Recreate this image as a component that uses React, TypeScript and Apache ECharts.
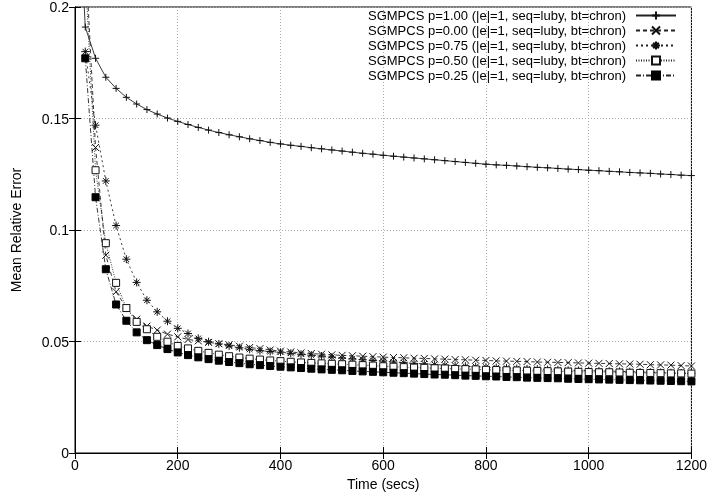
import React, { useEffect, useRef } from "react";
import * as echarts from "echarts";

const times = [0, 20, 40, 60, 80, 100, 120, 140, 160, 180, 200, 220, 240, 260, 280, 300, 320, 340, 360, 380, 400, 420, 440, 460, 480, 500, 520, 540, 560, 580, 600, 620, 640, 660, 680, 700, 720, 740, 760, 780, 800, 820, 840, 860, 880, 900, 920, 940, 960, 980, 1000, 1020, 1040, 1060, 1080, 1100, 1120, 1140, 1160, 1180, 1200];

const p100 = [0.28, 0.191, 0.177, 0.1685, 0.1635, 0.1595, 0.1565, 0.154, 0.152, 0.1502, 0.1487, 0.1473, 0.146, 0.1448, 0.1437, 0.1427, 0.1418, 0.1409, 0.1401, 0.1393, 0.1386, 0.138, 0.1375, 0.1369, 0.1364, 0.1359, 0.1354, 0.1349, 0.1344, 0.134, 0.1335, 0.1331, 0.1327, 0.1323, 0.1319, 0.1315, 0.1311, 0.1307, 0.1303, 0.1299, 0.1295, 0.1292, 0.129, 0.1287, 0.1284, 0.1281, 0.1279, 0.1276, 0.1273, 0.1271, 0.1268, 0.1266, 0.1263, 0.1261, 0.1258, 0.1256, 0.1254, 0.1251, 0.1249, 0.1246, 0.1244];
const p000 = [null, 0.225, 0.137, 0.0887, 0.0723, 0.065, 0.06, 0.0569, 0.0551, 0.0533, 0.0521, 0.0509, 0.0503, 0.0496, 0.049, 0.0485, 0.0479, 0.0473, 0.0468, 0.0462, 0.0457, 0.0453, 0.0449, 0.0446, 0.0443, 0.044, 0.0438, 0.0436, 0.0434, 0.0432, 0.043, 0.0428, 0.0427, 0.0425, 0.0424, 0.0422, 0.0421, 0.0419, 0.0418, 0.0416, 0.0415, 0.0413, 0.0412, 0.0411, 0.041, 0.0408, 0.0407, 0.0406, 0.0405, 0.0404, 0.0403, 0.0402, 0.0401, 0.04, 0.0399, 0.0398, 0.0396, 0.0395, 0.0394, 0.0392, 0.039];
const p075 = [null, 0.18, 0.147, 0.122, 0.102, 0.0869, 0.0765, 0.0685, 0.0633, 0.0591, 0.0559, 0.0536, 0.0514, 0.0499, 0.0489, 0.048, 0.0472, 0.0465, 0.0459, 0.0455, 0.0452, 0.0447, 0.0443, 0.0439, 0.0435, 0.043, 0.0426, 0.0422, 0.0418, 0.0415, 0.0412, 0.0408, 0.0405, 0.0402, 0.04, 0.0397, 0.0394, 0.0392, 0.0389, 0.0387, 0.0385, 0.0383, 0.0381, 0.0379, 0.0377, 0.0376, 0.0374, 0.0373, 0.0371, 0.037, 0.0369, 0.0368, 0.0367, 0.0366, 0.0365, 0.0363, 0.0362, 0.0361, 0.036, 0.0359, 0.0358];
const p050 = [null, 0.215, 0.1268, 0.0941, 0.0763, 0.065, 0.0588, 0.0555, 0.0521, 0.0499, 0.048, 0.0469, 0.0458, 0.0449, 0.0441, 0.0434, 0.0428, 0.0423, 0.0419, 0.0415, 0.0412, 0.0409, 0.0406, 0.0404, 0.0402, 0.04, 0.0398, 0.0396, 0.0394, 0.0392, 0.0389, 0.0387, 0.0385, 0.0383, 0.0382, 0.038, 0.0379, 0.0377, 0.0376, 0.0375, 0.0373, 0.0372, 0.0371, 0.037, 0.0369, 0.0368, 0.0367, 0.0366, 0.0365, 0.0364, 0.0363, 0.0362, 0.0362, 0.0361, 0.036, 0.0359, 0.0359, 0.0358, 0.0357, 0.0357, 0.0356];
const p025 = [null, 0.177, 0.1147, 0.0824, 0.0666, 0.0593, 0.0541, 0.0506, 0.0484, 0.0466, 0.0451, 0.0439, 0.0429, 0.0421, 0.0414, 0.0408, 0.0403, 0.0398, 0.0394, 0.039, 0.0387, 0.0384, 0.0381, 0.0378, 0.0375, 0.0373, 0.0371, 0.0368, 0.0366, 0.0364, 0.0362, 0.036, 0.0358, 0.0356, 0.0354, 0.0352, 0.0351, 0.0349, 0.0347, 0.0346, 0.0344, 0.0343, 0.0341, 0.034, 0.0338, 0.0337, 0.0336, 0.0335, 0.0333, 0.0332, 0.0331, 0.033, 0.0329, 0.0328, 0.0327, 0.0326, 0.0325, 0.0324, 0.0323, 0.0322, 0.0321];

const seriesNames = [
  "SGMPCS p=1.00 (|e|=1, seq=luby, bt=chron)",
  "SGMPCS p=0.00 (|e|=1, seq=luby, bt=chron)",
  "SGMPCS p=0.75 (|e|=1, seq=luby, bt=chron)",
  "SGMPCS p=0.50 (|e|=1, seq=luby, bt=chron)",
  "SGMPCS p=0.25 (|e|=1, seq=luby, bt=chron)",
];

const FONT = "Liberation Sans, Arial, sans-serif";
const PLUS = "path://M0,5L10,5M5,0L5,10";
const CROSS = "path://M0,0L10,10M10,0L0,10";
const STAR = "path://M0,5L10,5M5,0L5,10M1.5,1.5L8.5,8.5M8.5,1.5L1.5,8.5";

function pairs(vals: (number | null)[]) {
  const out: [number, number][] = [];
  vals.forEach((v, i) => {
    if (v !== null) out.push([times[i], v]);
  });
  return out;
}

export default function App() {
  const ref = useRef<HTMLDivElement>(null);
  useEffect(() => {
    if (!ref.current) return;
    const chart = echarts.init(ref.current, null, { renderer: "svg" });
    const strokeSym = { color: "none", borderColor: "#111", borderWidth: 1 };
    const mk = (name: string, vals: (number | null)[], symbol: string, size: number, itemStyle: any, dash: any) => ({
      name,
      type: "line",
      data: pairs(vals),
      symbol,
      symbolSize: size,
      showSymbol: true,
      clip: true,
      itemStyle,
      lineStyle: { color: "#222", width: 0.9, type: dash },
      emphasis: { disabled: true },
    });
    const baseX = { type: "value", min: 0, max: 1200, interval: 200 };
    const baseY = { type: "value", min: 0, max: 0.2, interval: 0.05 };
    const fmt = (v: number) => String(v);
    chart.setOption({
      animation: false,
      textStyle: { fontFamily: FONT },
      grid: { left: 75, right: 12, top: 7, bottom: 43, show: true, borderColor: "#000", borderWidth: 1, backgroundColor: "transparent" },
      legend: {
        orient: "vertical",
        right: 28,
        top: 4,
        align: "right",
        itemWidth: 40,
        itemHeight: 10,
        itemGap: 2,
        textStyle: { fontSize: 13, lineHeight: 13, color: "#000", fontFamily: FONT, padding: [0, 5, 0, 0] },
        data: seriesNames,
      },
      xAxis: [
        {
          ...baseX,
          position: "bottom",
          axisLine: { show: true, lineStyle: { color: "#000", width: 1 } },
          axisTick: { show: true, inside: true, length: 6, lineStyle: { color: "#000" } },
          axisLabel: { color: "#000", fontSize: 14, margin: 5, fontFamily: FONT, formatter: fmt },
          splitLine: { show: true, lineStyle: { color: "#aaa", type: [1, 2], width: 1 } },
          name: "Time (secs)",
          nameLocation: "middle",
          nameGap: 24,
          nameTextStyle: { color: "#000", fontSize: 14, fontFamily: FONT },
        },
        {
          ...baseX,
          position: "top",
          axisLine: { show: true, lineStyle: { color: "#000", width: 1 } },
          axisTick: { show: true, inside: true, length: 6, lineStyle: { color: "#000" } },
          axisLabel: { show: false },
          splitLine: { show: false },
        },
      ],
      yAxis: [
        {
          ...baseY,
          position: "left",
          axisLine: { show: true, lineStyle: { color: "#000", width: 1 } },
          axisTick: { show: true, inside: true, length: 6, lineStyle: { color: "#000" } },
          axisLabel: { color: "#000", fontSize: 14, margin: 6, fontFamily: FONT, formatter: fmt },
          splitLine: { show: true, lineStyle: { color: "#aaa", type: [1, 2], width: 1 } },
          name: "Mean Relative Error",
          nameLocation: "middle",
          nameGap: 52,
          nameTextStyle: { color: "#000", fontSize: 14, fontFamily: FONT },
        },
        {
          ...baseY,
          position: "right",
          axisLine: { show: true, lineStyle: { color: "#000", width: 1 } },
          axisTick: { show: true, inside: true, length: 6, lineStyle: { color: "#000" } },
          axisLabel: { show: false },
          splitLine: { show: false },
        },
      ],
      series: [
        mk(seriesNames[0], p100, PLUS, 7, strokeSym, "solid"),
        mk(seriesNames[1], p000, CROSS, 7, strokeSym, [4, 3]),
        mk(seriesNames[2], p075, STAR, 8, strokeSym, [2, 3]),
        mk(seriesNames[3], p050, "rect", 7, { color: "#fff", borderColor: "#111", borderWidth: 1 }, [1, 1.5]),
        mk(seriesNames[4], p025, "rect", 7, { color: "#000", borderColor: "#000", borderWidth: 1 }, [5, 2, 1, 2]),
      ],
    });
    return () => chart.dispose();
  }, []);
  return <div ref={ref} style={{ position: "fixed", left: 0, top: 0, width: 710, height: 496 }} />;
}
